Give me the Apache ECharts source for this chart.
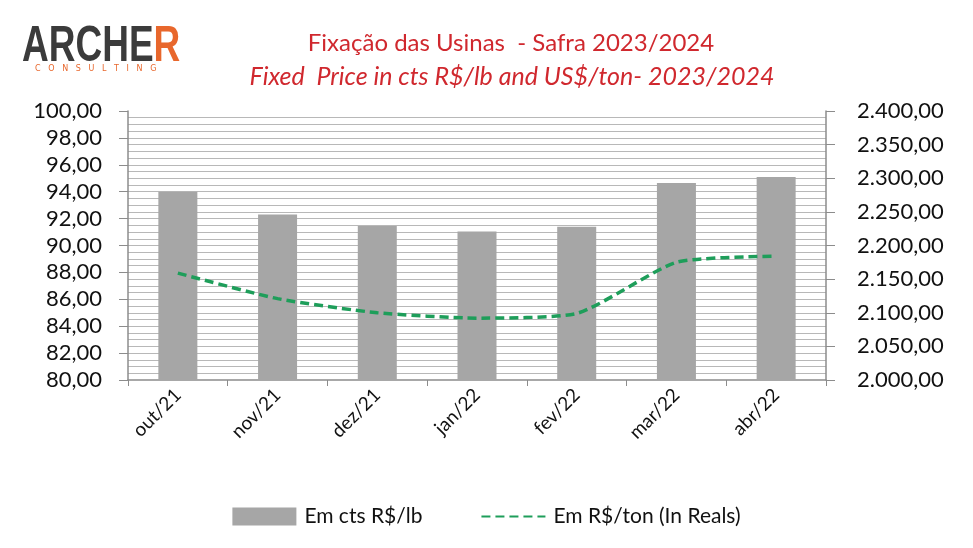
<!DOCTYPE html>
<html>
<head>
<meta charset="utf-8">
<script src="https://cdn.jsdelivr.net/npm/echarts@6/dist/echarts.min.js"></script>
<style>html,body{margin:0;padding:0;background:#fff}#c{width:973px;height:548px}</style>
</head>
<body>
<div id="c"></div>
<script>
const categories = ['out/21','nov/21','dez/21','jan/22','fev/22','mar/22','abr/22'];
const centsPerLb = [94.0, 92.3, 91.45, 91.05, 91.4, 94.65, 95.1];
const realsPerTon = [2159, 2121, 2100, 2092, 2099, 2175, 2184];
const seriesNames = ['Em cts R$/lb', 'Em R$/ton (In Reals)'];
const titleLine1 = 'Fixação das Usinas  - Safra 2023/2024';
const titleLine2 = 'Fixed  Price in cts R$/lb and US$/ton- 2023/2024';

function fmt(v) {
  const parts = v.toFixed(2).split('.');
  parts[0] = parts[0].replace(/\B(?=(\d{3})+(?!\d))/g, '.');
  return parts[0] + ',' + parts[1];
}

const FONT = 'Lato';
const chart = echarts.init(document.getElementById('c'));
chart.setOption({
  animation: false,
  backgroundColor: '#fff',
  textStyle: { fontFamily: FONT },
  title: [
    { text: titleLine1, left: 506, top: 26, textAlign: 'center',
      textStyle: { color: '#d0282e', fontSize: 24, fontWeight: 'normal', fontFamily: FONT } },
    { text: titleLine2, left: 507, top: 59, textAlign: 'center',
      textStyle: { color: '#d0282e', fontSize: 25, fontWeight: 'normal', fontStyle: 'italic', fontFamily: FONT } }
  ],
  graphic: [
    { type: 'text', left: 22, top: 22, scaleX: 0.74, style: {
        text: '{a|ARCHE}{b|R}', rich: {
          a: { fontSize: 50, fontFamily: 'Liberation Sans', fill: '#3b3b3b', fontWeight: 'bold' },
          b: { fontSize: 50, fontFamily: 'Liberation Sans', fill: '#e8672c', fontWeight: 'bold' }
        } } },
    { type: 'text', left: 35, top: 65, style: {
        text: 'C   O   N   S   U   L   T   I   N   G', fontSize: 8, fontFamily: 'DejaVu Sans', fill: '#e8672c' } }
  ],
  legend: {
    bottom: 16, left: 'center', itemGap: 58, itemWidth: 64, itemHeight: 18,
    textStyle: { fontSize: 21, color: '#111', fontFamily: FONT, padding: [0, 0, 0, 3] },
    data: [
      { name: seriesNames[0], icon: 'rect' },
      { name: seriesNames[1], itemStyle: { opacity: 0 } }
    ]
  },
  grid: { left: 128, right: 147, top: 111, bottom: 168 },
  xAxis: {
    type: 'category', data: categories,
    axisLine: { lineStyle: { color: '#8c8c8c', width: 1.5 } },
    axisTick: { show: true, length: 6, lineStyle: { color: '#8c8c8c' } },
    axisLabel: { rotate: 45, fontSize: 19, color: '#111', margin: 12, fontFamily: FONT }
  },
  yAxis: [
    { type: 'value', min: 80, max: 100, interval: 2, position: 'left',
      axisLine: { show: true, lineStyle: { color: '#8c8c8c', width: 1.5 } },
      axisTick: { show: true, length: 9, lineStyle: { color: '#8c8c8c' } },
      axisLabel: { fontSize: 22, color: '#111', margin: 26, formatter: fmt, fontFamily: FONT },
      splitLine: { show: true, showMaxLine: false, showMinLine: false, lineStyle: { color: '#b8b8b8', width: 1 } },
      minorTick: { show: false, splitNumber: 4 },
      minorSplitLine: { show: true, lineStyle: { color: '#b8b8b8', width: 1 } }
    },
    { type: 'value', min: 2000, max: 2400, interval: 50, position: 'right',
      axisLine: { show: true, lineStyle: { color: '#8c8c8c', width: 1.5 } },
      axisTick: { show: true, length: 9, lineStyle: { color: '#8c8c8c' } },
      axisLabel: { fontSize: 22, color: '#111', margin: 31, formatter: fmt, fontFamily: FONT },
      splitLine: { show: false }
    }
  ],
  series: [
    { name: seriesNames[0], type: 'bar', data: centsPerLb, yAxisIndex: 0, barWidth: 39,
      itemStyle: { color: '#a6a6a6' } },
    { name: seriesNames[1], type: 'line', data: realsPerTon, yAxisIndex: 1, symbol: 'none',
      smooth: 0.2,
      lineStyle: { color: '#1e9e5a', width: 3.5, type: [9, 5] },
      itemStyle: { color: '#1e9e5a' } }
  ]
});
</script>
</body>
</html>
